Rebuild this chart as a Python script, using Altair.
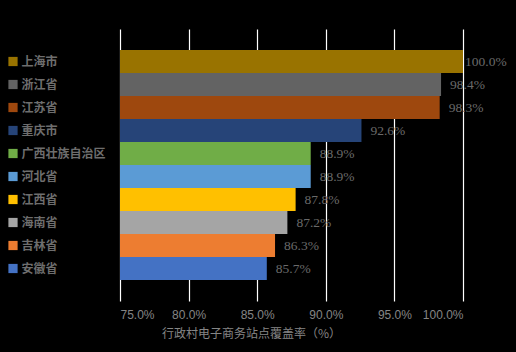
import altair as alt
import pandas as pd

provinces = ["上海市", "浙江省", "江苏省", "重庆市", "广西壮族自治区",
             "河北省", "江西省", "海南省", "吉林省", "安徽省"]
values = [100.0, 98.4, 98.3, 92.6, 88.9, 88.9, 87.8, 87.2, 86.3, 85.7]
colors = ["#997300", "#636363", "#9E480E", "#264478", "#70AD47",
          "#5B9BD5", "#FFC000", "#A5A5A5", "#ED7D31", "#4472C4"]
x_ticks = [75, 80, 85, 90, 95, 100]

df = pd.DataFrame({"province": provinces, "value": values, "color": colors})
df["label"] = df["value"].map(lambda v: f"{v:.1f}%")

y_enc = alt.Y("province:N", sort=provinces,
              scale=alt.Scale(paddingInner=0, paddingOuter=21 / 23),
              axis=alt.Axis(title=None, domain=False, ticks=False, tickSize=0,
                            labelAlign="left", labelPadding=99, labelFontSize=12,
                            labelColor="#6e6e6e", labelFont="Noto Sans CJK SC",
                            labelFontWeight="bold", grid=False))

x_enc = alt.X("value:Q", scale=alt.Scale(domain=[75, 100], nice=False, clamp=False),
              axis=alt.Axis(values=x_ticks, labelExpr="format(datum.value, '.1f') + '%'",
                            title="行政村电子商务站点覆盖率（%）", grid=True,
                            gridColor="#ffffff", gridWidth=1.2, gridOpacity=1,
                            domain=False, ticks=False, labelPadding=8,
                            labelFontSize=12, labelColor="#858585",
                            labelFont="Liberation Sans",
                            titleFont="Noto Sans CJK SC", titleFontSize=12,
                            titleColor="#858585", titleFontWeight="normal",
                            titleX=131, titleAlign="center", titlePadding=8))

base = alt.Chart(df)

bars = base.mark_bar(clip=False).encode(
    x=x_enc,
    x2=alt.datum(75),
    y=y_enc,
    color=alt.Color("color:N", scale=None),
)

squares = base.mark_square(size=85, opacity=1, clip=False).encode(
    x=alt.value(-107),
    y=alt.Y("province:N", sort=provinces),
    color=alt.Color("color:N", scale=None),
)

label_style = dict(align="left", baseline="middle", fontSize=13.5,
                   font="Liberation Serif", color="#6a6a6a")

labels_main = base.transform_filter("datum.value < 100").mark_text(dx=9, **label_style).encode(
    x="value:Q", y=alt.Y("province:N", sort=provinces), text="label:N")
labels_top = base.transform_filter("datum.value >= 100").mark_text(dx=2, **label_style).encode(
    x="value:Q", y=alt.Y("province:N", sort=provinces), text="label:N")

chart = alt.layer(bars, squares, labels_main, labels_top).properties(
    width=343, height=272,
    autosize=alt.AutoSizeParams(type="none"),
    padding={"left": 120, "top": 29, "right": 53, "bottom": 51},
    background="#000000",
).configure_view(stroke=None)

chart.save("out.html", embed_options={"renderer": "svg", "actions": False})
